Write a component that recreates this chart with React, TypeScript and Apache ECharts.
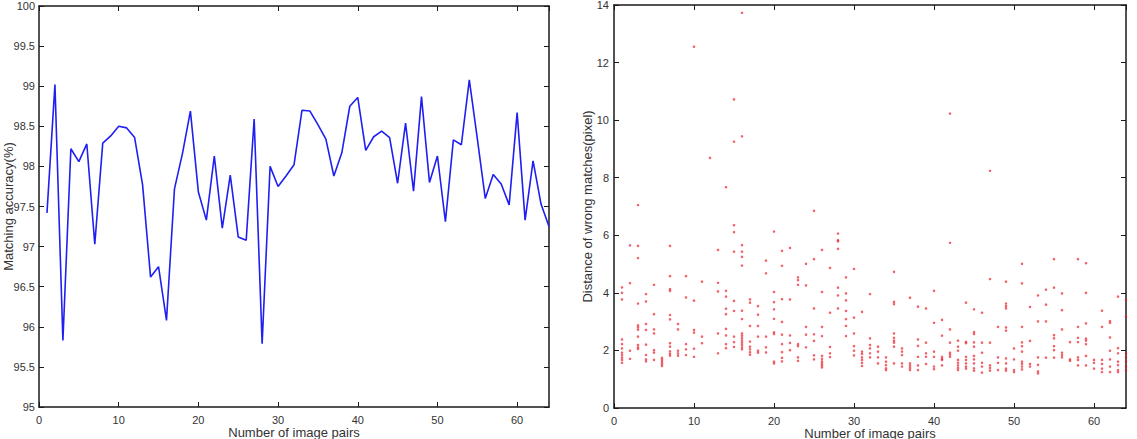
import React, { useEffect, useRef } from "react";
import * as echarts from "echarts";

// Matching accuracy (%) for image pairs 1..64
const accuracy: number[] = [
  97.42, 99.02, 95.83, 98.22, 98.06, 98.28, 97.03, 98.29, 98.38, 98.5,
  98.48, 98.36, 97.77, 96.62, 96.75, 96.08, 97.72, 98.16, 98.69, 97.68,
  97.33, 98.13, 97.23, 97.89, 97.12, 97.08, 98.59, 95.79, 98.0, 97.75,
  97.88, 98.02, 98.7, 98.69, 98.52, 98.34, 97.88, 98.17, 98.75, 98.86,
  98.2, 98.37, 98.44, 98.36, 97.79, 98.54, 97.69, 98.87, 97.8, 98.13,
  97.31, 98.33, 98.27, 99.08, 98.35, 97.6, 97.9, 97.78, 97.52, 98.67,
  97.33, 98.07, 97.53, 97.25,
];

// Distance (pixel) of each wrong match, grouped by image pair 1..64
const wrongMatchDistances: number[][] = [
  [4.19, 4.0, 3.77, 2.38, 2.22, 2.07, 1.92, 1.84, 1.75, 1.67, 1.57],
  [5.65, 4.34, 1.99, 1.71],
  [7.05, 5.63, 5.21, 3.63, 2.87, 2.8, 2.72, 2.48, 2.19, 2.11, 2.05],
  [3.96, 3.7, 2.92, 2.71, 2.2, 1.84, 1.69, 1.62],
  [4.28, 3.26, 2.73, 2.59, 2.01, 1.92, 1.67],
  [1.74, 1.67, 1.6, 1.53, 1.46],
  [5.63, 4.58, 4.13, 4.07, 3.23, 3.08, 2.25, 2.13, 1.97, 1.89, 1.82],
  [2.92, 2.73, 1.99, 1.9, 1.82],
  [4.58, 3.84, 2.22, 2.04, 1.84],
  [12.55, 3.73, 2.71, 2.62, 2.06, 1.78],
  [4.39, 2.48, 2.25],
  [8.69],
  [5.49, 4.35, 4.05, 2.59, 1.9],
  [7.67, 4.07, 3.87, 3.45, 3.26, 2.75, 2.52, 2.22, 2.08],
  [10.72, 9.25, 6.35, 6.11, 5.43, 3.72, 3.37, 2.48, 2.29, 2.12],
  [13.73, 9.44, 5.66, 5.43, 5.25, 4.95, 3.38, 3.09, 2.59, 2.51, 2.43, 2.35, 2.27, 2.19, 2.11, 2.04],
  [3.77, 3.66, 2.85, 2.31, 2.13, 2.04, 1.94, 1.85],
  [3.54, 3.24, 2.85, 2.48, 1.99, 1.92],
  [5.12, 4.68, 2.48, 2.11, 1.93],
  [6.13, 4.03, 3.68, 3.43, 3.1, 2.63, 2.57, 1.61, 1.55],
  [5.46, 4.94, 3.78, 2.99, 2.55, 2.22, 1.94, 1.74, 1.62],
  [5.56, 3.77, 2.52, 2.26, 2.01],
  [4.54, 4.44, 4.28, 2.22, 2.15, 1.76, 1.64],
  [5.01, 4.26, 2.82, 2.55, 2.11],
  [6.85, 5.17, 3.46, 2.56, 2.33, 1.83, 1.69],
  [5.49, 4.03, 2.82, 2.5, 1.81, 1.71, 1.62, 1.55, 1.48, 1.41],
  [4.87, 3.31, 2.12, 1.9, 1.77],
  [6.06, 5.83, 5.79, 5.53, 4.18, 3.91, 3.46],
  [4.54, 3.98, 3.74, 3.37, 3.09, 2.85, 2.5],
  [4.83, 3.14, 2.59, 2.15, 1.99, 1.83],
  [3.34, 1.96, 1.88, 1.76, 1.67, 1.57, 1.46],
  [3.96, 2.42, 2.19, 2.07, 1.9, 1.76],
  [2.13, 1.96, 1.76, 1.55],
  [1.76, 1.61, 1.49, 1.38, 1.32],
  [4.73, 3.69, 3.61, 2.59, 2.44, 2.34, 2.27, 2.13, 1.55],
  [2.07, 1.96, 1.84, 1.55, 1.44],
  [3.83, 1.55, 1.47, 1.39, 1.32],
  [3.52, 2.38, 2.16, 1.78, 1.48, 1.32],
  [3.46, 2.27, 1.9, 1.78, 1.53],
  [4.07, 2.96, 1.96, 1.78, 1.44, 1.35],
  [3.06, 2.51, 1.78, 1.71, 1.67, 1.48],
  [10.23, 5.74, 2.73, 2.27, 1.92, 1.85, 1.78],
  [2.34, 2.13, 1.99, 1.67, 1.57, 1.48, 1.39, 1.32],
  [3.66, 2.3, 2.25, 1.78, 1.67, 1.55, 1.44, 1.37],
  [3.43, 2.64, 2.57, 2.28, 2.13, 1.81, 1.69, 1.55, 1.38, 1.3],
  [3.31, 2.27, 1.92, 1.57, 1.44, 1.23],
  [8.24, 4.48, 2.27, 1.48, 1.39, 1.3],
  [2.82, 1.76, 1.57, 1.32],
  [4.39, 3.63, 3.54, 3.46, 2.8, 2.69, 1.72, 1.55, 1.37, 1.3],
  [2.07, 1.69, 1.32, 1.25],
  [5.01, 4.33, 2.82, 2.28, 2.15, 1.96, 1.61, 1.53, 1.44, 1.34],
  [3.51, 2.33, 1.53, 1.44],
  [3.91, 3.01, 1.76, 1.5, 1.27, 1.2],
  [4.11, 3.59, 3.01, 1.75],
  [5.17, 4.18, 2.53, 2.42, 2.15, 2.01, 1.75],
  [3.98, 3.4, 2.73, 1.92, 1.84, 1.76],
  [2.29, 1.69, 1.64],
  [5.17, 2.82, 2.44, 2.29, 1.76, 1.67, 1.48],
  [5.03, 4.0, 2.94, 2.41, 2.34, 2.22, 1.81, 1.48],
  [1.67, 1.57, 1.37],
  [3.38, 2.82, 1.67, 1.53, 1.37, 1.25],
  [3.02, 2.96, 2.45, 1.99, 1.69, 1.44, 1.25],
  [3.87, 2.08, 1.9, 1.61, 1.49, 1.32, 1.25],
  [3.75, 3.17, 1.9, 1.76, 1.61, 1.44, 1.3],
];

const xTitle = "Number of image pairs";
const accuracyTitle = "Matching accuracy(%)";
const distanceTitle = "Distance of wrong matches(pixel)";

const FONT = "'Liberation Sans', Arial, Helvetica, sans-serif";
const AXIS_COLOR = "#1a1a1a";
const TEXT_COLOR = "#333";

function frameAxes(gridIndex: number, yMin: number, yMax: number, yStep: number, yGap: number, yName: string, yLabelMargin: number) {
  const line = { show: true, onZero: false, lineStyle: { color: AXIS_COLOR, width: 1.5 } };
  const tick = { show: true, inside: true, length: 5, lineStyle: { color: AXIS_COLOR, width: 1 } };
  const label = { color: TEXT_COLOR, fontFamily: FONT, fontSize: 11 };
  const nameStyle = { color: TEXT_COLOR, fontFamily: FONT, fontSize: 13, lineHeight: 14 };
  const xAxes = [
    {
      type: "value", gridIndex, position: "bottom", min: 0, max: 64, interval: 10,
      axisLine: line, axisTick: tick, splitLine: { show: false },
      axisLabel: { ...label, margin: 7, showMaxLabel: false },
      name: xTitle, nameLocation: "middle", nameGap: 18, nameMoveOverlap: false, nameTextStyle: nameStyle,
    },
    {
      type: "value", gridIndex, position: "top", min: 0, max: 64, interval: 10,
      axisLine: line, axisTick: tick, splitLine: { show: false }, axisLabel: { show: false },
    },
  ];
  const yAxes = [
    {
      type: "value", gridIndex, position: "left", min: yMin, max: yMax, interval: yStep,
      axisLine: line, axisTick: tick, splitLine: { show: false },
      axisLabel: { ...label, margin: yLabelMargin },
      name: yName, nameLocation: "middle", nameGap: yGap, nameMoveOverlap: false, nameTextStyle: nameStyle,
    },
    {
      type: "value", gridIndex, position: "right", min: yMin, max: yMax, interval: yStep,
      axisLine: line, axisTick: tick, splitLine: { show: false }, axisLabel: { show: false },
    },
  ];
  return { xAxes, yAxes };
}

export default function App() {
  const ref = useRef<HTMLDivElement>(null);

  useEffect(() => {
    if (!ref.current) return;
    const chart = echarts.init(ref.current, undefined, { renderer: "svg" });

    const left = frameAxes(0, 95, 100, 0.5, 24, accuracyTitle, 4);
    const right = frameAxes(1, 0, 14, 2, 20, distanceTitle, 5);

    const linePoints = accuracy.map((v, i) => [i + 1, v]);
    const scatterPoints: number[][] = [];
    wrongMatchDistances.forEach((list, i) => {
      list.forEach((d) => scatterPoints.push([i + 1, d]));
    });

    chart.setOption({
      animation: false,
      backgroundColor: "#fff",
      grid: [
        { left: 39, top: 6, width: 510, height: 401, outerBoundsMode: "none", containLabel: false },
        { left: 614, top: 5, width: 512, height: 403, outerBoundsMode: "none", containLabel: false },
      ],
      xAxis: [...left.xAxes, ...right.xAxes],
      yAxis: [...left.yAxes, ...right.yAxes],
      series: [
        {
          type: "line",
          xAxisIndex: 0,
          yAxisIndex: 0,
          data: linePoints,
          showSymbol: false,
          lineStyle: { color: "#1f1ff2", width: 1.6 },
          clip: true,
        },
        {
          type: "scatter",
          xAxisIndex: 2,
          yAxisIndex: 2,
          data: scatterPoints,
          symbol: "circle",
          symbolSize: 2.6,
          itemStyle: { color: "rgba(235,25,35,0.85)" },
          clip: true,
        },
      ],
    });

    return () => chart.dispose();
  }, []);

  return (
    <div
      ref={ref}
      style={{ position: "absolute", left: 0, top: 0, width: 1137, height: 439, background: "#fff" }}
    />
  );
}
